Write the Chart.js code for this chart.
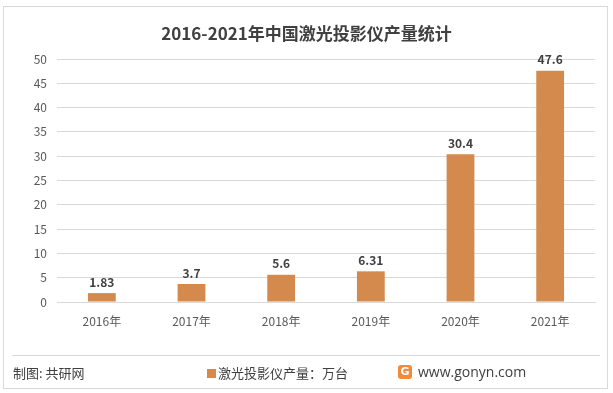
<!DOCTYPE html>
<html>
<head>
<meta charset="utf-8">
<script src="https://cdn.jsdelivr.net/npm/chart.js@4"></script>
<style>
  body { margin: 0; background: #fff; font-family: "Noto Sans CJK SC", "Noto Sans", sans-serif; }
  #wrap { position: relative; width: 613px; height: 393px; }
  #frame { position: absolute; left: 3px; top: 6px; width: 603px; height: 381px; border: 1px solid #d9d9d9; }
  #title { position: absolute; left: 0; width: 613px; top: 20px; text-align: center; font-size: 17px; font-weight: bold; color: #404040; }
  #sep { position: absolute; left: 12px; top: 355px; width: 588px; height: 1px; background: #d9d9d9; }
  .foot { position: absolute; top: 363px; font-size: 13px; color: #404040; }
  #logo { position: absolute; left: 398px; top: 365px; width: 14px; height: 14px; border-radius: 3px; background: #f08a3c; color: #fff; font: bold 11px "DejaVu Sans", sans-serif; text-align: center; line-height: 14px; }
  canvas { position: absolute; left: 0; top: 0; }
</style>
</head>
<body>
<div id="wrap">
  <canvas id="chart" width="613" height="393"></canvas>
  <div id="frame"></div>
  <div id="title">2016-2021年中国激光投影仪产量统计</div>
  <div id="sep"></div>
  <div class="foot" style="left:13px;">制图: 共研网</div>
  <div class="foot" style="left:207px;"><span style="display:inline-block;width:9px;height:9px;background:#d38a4c;margin-right:2px;"></span>激光投影仪产量：万台</div>
  <div id="logo">G</div>
  <div class="foot" style="left:418px;font-size:14px;font-family:'Open Sans',sans-serif;top:362px;">www.gonyn.com</div>
</div>
<script>
// Data
const years = ['2016年', '2017年', '2018年', '2019年', '2020年', '2021年'];
const output = [1.83, 3.7, 5.6, 6.31, 30.4, 47.6];
const labels = ['1.83', '3.7', '5.6', '6.31', '30.4', '47.6'];

// value labels above bars
const barLabels = {
  id: 'barLabels',
  afterDatasetsDraw(chart) {
    const ctx = chart.ctx;
    ctx.save();
    ctx.font = 'bold 12px "Noto Sans CJK SC", sans-serif';
    ctx.fillStyle = '#404040';
    ctx.textAlign = 'center';
    ctx.textBaseline = 'bottom';
    chart.getDatasetMeta(0).data.forEach((bar, i) => {
      ctx.fillText(labels[i], bar.x, bar.y - 5);
    });
    ctx.restore();
  }
};

new Chart(document.getElementById('chart'), {
  type: 'bar',
  data: {
    labels: years,
    datasets: [{
      label: '激光投影仪产量：万台',
      data: output,
      backgroundColor: '#d38a4c',
      barPercentage: 0.31,
      categoryPercentage: 1
    }]
  },
  options: {
    responsive: false,
    animation: false,
    layout: { padding: { top: 59, right: 18, bottom: 61, left: 0 } },
    plugins: { legend: { display: false }, tooltip: { enabled: false } },
    scales: {
      x: {
        grid: { display: false, drawTicks: false },
        border: { color: '#d9d9d9' },
        ticks: { color: '#595959', padding: 12, font: { size: 12, family: '"Noto Sans CJK SC", sans-serif' } },
        afterFit(s) { s.height = 30; }
      },
      y: {
        min: 0, max: 50,
        ticks: { stepSize: 5, color: '#595959', padding: 10, font: { size: 12, family: '"Noto Sans CJK SC", sans-serif' } },
        grid: { color: '#d9d9d9', drawTicks: false },
        border: { display: false },
        afterFit(s) { s.width = 57; }
      }
    }
  },
  plugins: [barLabels]
});
</script>
</body>
</html>
